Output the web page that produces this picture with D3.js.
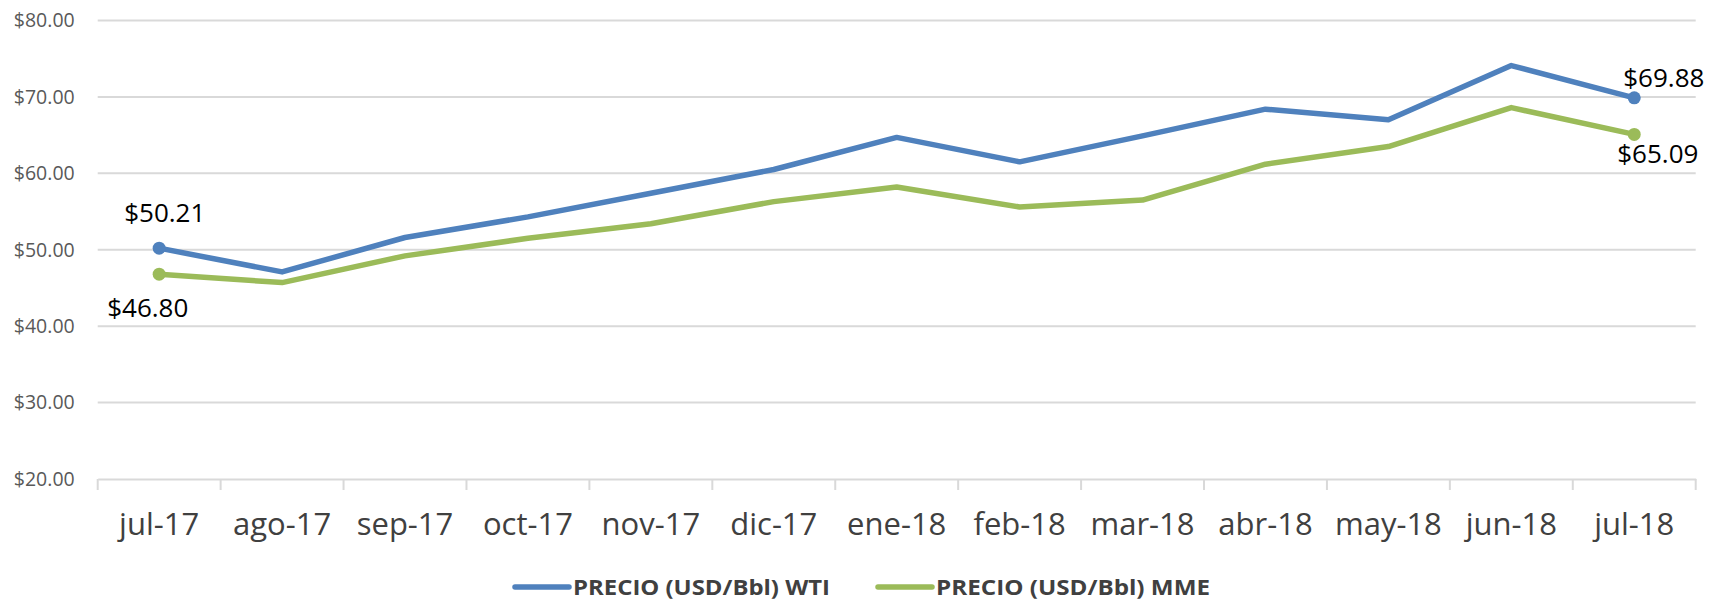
<!DOCTYPE html>
<html>
<head>
<meta charset="utf-8">
<script src="https://cdn.jsdelivr.net/npm/d3@7"></script>
<style>
  body { margin: 0; background: #fff; }
  text { font-family: "Open Sans", "Liberation Sans", sans-serif; }
</style>
</head>
<body>
<div id="chart"></div>
<script>
const width = 1709;
const height = 600;
const margin = { top: 20.5, right: 13.3, bottom: 121, left: 97.7 };

const BLUE = "#4F81BD";
const GREEN = "#9BBB59";
const GRID = "#D9D9D9";

// datos
const meses = ["jul-17", "ago-17", "sep-17", "oct-17", "nov-17", "dic-17", "ene-18",
               "feb-18", "mar-18", "abr-18", "may-18", "jun-18", "jul-18"];
const wti = [50.21, 47.1, 51.6, 54.3, 57.4, 60.5, 64.7, 61.5, 64.9, 68.4, 67.0, 74.1, 69.88];
const mme = [46.80, 45.7, 49.2, 51.5, 53.4, 56.3, 58.2, 55.6, 56.5, 61.2, 63.5, 68.6, 65.09];
const yTicks = [20, 30, 40, 50, 60, 70, 80];
const series = [
  { name: "PRECIO (USD/Bbl) WTI", values: wti, color: BLUE },
  { name: "PRECIO (USD/Bbl) MME", values: mme, color: GREEN }
];

const svg = d3.select("#chart").append("svg")
  .attr("width", width).attr("height", height);

const x = d3.scaleBand().domain(meses).range([margin.left, width - margin.right]);
const y = d3.scaleLinear().domain([20, 80]).range([height - margin.bottom, margin.top]);
const cx = m => x(m) + x.bandwidth() / 2;

// cuadricula
svg.append("g")
  .selectAll("line").data(yTicks.slice(1)).join("line")
  .attr("x1", margin.left).attr("x2", width - margin.right)
  .attr("y1", d => y(d)).attr("y2", d => y(d))
  .attr("stroke", GRID).attr("stroke-width", 2);

// eje X
const xAxis = svg.append("g")
  .attr("transform", `translate(0,${y(20)})`)
  .call(d3.axisBottom(x).tickSize(0).tickPadding(34));
xAxis.select(".domain").attr("stroke", GRID).attr("stroke-width", 2);
xAxis.selectAll("text").attr("font-size", "31px").attr("fill", "#404040")
  .style("font-family", "'Open Sans', sans-serif");
// marcas entre categorias
const bordes = meses.map(m => x(m)).concat([width - margin.right]);
svg.append("g").selectAll("line").data(bordes).join("line")
  .attr("x1", d => d).attr("x2", d => d)
  .attr("y1", y(20)).attr("y2", y(20) + 11)
  .attr("stroke", GRID).attr("stroke-width", 2);

// eje Y
const yAxis = svg.append("g")
  .attr("transform", `translate(${margin.left},0)`)
  .call(d3.axisLeft(y).tickValues(yTicks).tickSize(0).tickPadding(23)
    .tickFormat(d => "$" + d3.format(".2f")(d)));
yAxis.select(".domain").remove();
yAxis.selectAll("text").attr("font-size", "19.5px").attr("fill", "#595959")
  .style("font-family", "'Open Sans', sans-serif");

// lineas
const line = d3.line().x((d, i) => cx(meses[i])).y(d => y(d));
series.forEach(s => {
  svg.append("path").datum(s.values)
    .attr("fill", "none").attr("stroke", s.color).attr("stroke-width", 5.5)
    .attr("stroke-linejoin", "round")
    .attr("d", line);
  const ext = [0, s.values.length - 1];
  svg.append("g").selectAll("circle").data(ext).join("circle")
    .attr("cx", i => cx(meses[i])).attr("cy", i => y(s.values[i]))
    .attr("r", 6.5).attr("fill", s.color);
});

// etiquetas de datos
const etiquetas = [
  { v: wti, i: 0, dx: -35, dy: -26 },
  { v: mme, i: 0, dx: -52, dy: 43 },
  { v: wti, i: 12, dx: -11, dy: -11 },
  { v: mme, i: 12, dx: -17, dy: 29 }
];
svg.append("g").selectAll("text").data(etiquetas).join("text")
  .attr("x", d => cx(meses[d.i]) + d.dx)
  .attr("y", d => y(d.v[d.i]) + d.dy)
  .attr("font-size", "26px").attr("fill", "#000")
  .text(d => "$" + d.v[d.i].toFixed(2));

// leyenda
const legX = [515, 878];
const legLen = [257, 274];
const legY = 587;
const leg = svg.append("g").selectAll("g").data(series).join("g")
  .attr("transform", (d, i) => `translate(${legX[i]},${legY})`);
leg.append("line").attr("x1", 0).attr("x2", 54).attr("y1", 0).attr("y2", 0)
  .attr("stroke", d => d.color).attr("stroke-width", 5.5).attr("stroke-linecap", "round");
leg.append("text").attr("x", 58).attr("y", 0).attr("dy", "0.35em")
  .attr("font-size", "22px").attr("font-weight", "bold").attr("fill", "#404040")
  .attr("textLength", (d, i) => legLen[i]).attr("lengthAdjust", "spacingAndGlyphs")
  .text(d => d.name);
</script>
</body>
</html>
